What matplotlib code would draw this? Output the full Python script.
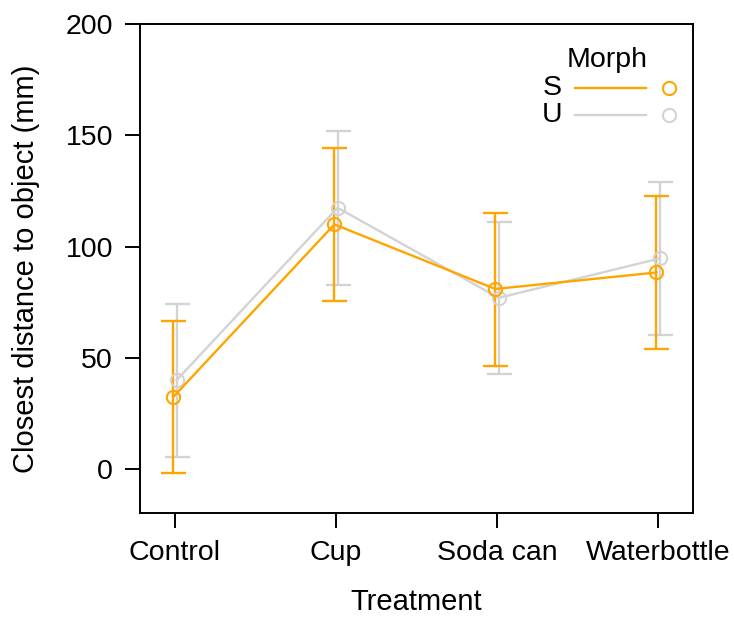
import matplotlib
matplotlib.use("Agg")
import matplotlib.pyplot as plt
import numpy as np

plt.rcParams['font.family'] = ['Liberation Sans', 'DejaVu Sans']

treatments = ['Control', 'Cup', 'Soda can', 'Waterbottle']
morphs = ['S', 'U']

# means and lower/upper interval ends
mean_S = [32.5, 110.0, 81.0, 88.4]
low_S = [-1.8, 75.5, 46.4, 53.9]
high_S = [66.6, 144.3, 115.2, 122.8]

mean_U = [40.0, 117.5, 77.0, 94.7]
low_U = [5.7, 83.0, 42.7, 60.2]
high_U = [74.1, 151.8, 111.1, 129.1]

colors = {'S': '#FFA500', 'U': '#D3D3D3'}

fig = plt.figure(figsize=(7.34, 6.18), dpi=100)
ax = fig.add_axes([0.1907, 0.1704, 0.7534, 0.7907])

x = np.arange(1, len(treatments) + 1)
dodge = {'S': -0.01, 'U': 0.01}
data = {'S': (mean_S, low_S, high_S), 'U': (mean_U, low_U, high_U)}

# grey first so orange sits on top
for m in ['U', 'S']:
    mu, lo, hi = (np.array(v) for v in data[m])
    xs = x + dodge[m]
    ax.errorbar(xs, mu, yerr=[mu - lo, hi - mu], fmt='none', ecolor=colors[m],
                elinewidth=1.7, capsize=9, capthick=1.7, zorder=2)
    ax.plot(xs, mu, color=colors[m], lw=1.7, marker='o', ms=9.5,
            mfc='none', mec=colors[m], mew=1.5, zorder=3)

ax.set_xlim(0.783, 4.217)
ax.set_ylim(-19.5, 200)
ax.set_xticks(x)
ax.set_xticklabels(treatments)
ax.set_yticks([0, 50, 100, 150, 200])

for s in ax.spines.values():
    s.set_linewidth(1.4)
    s.set_color('black')
ax.tick_params(axis='both', length=10.5, width=1.4, labelsize=20.5)
ax.tick_params(axis='x', pad=9)
ax.tick_params(axis='y', pad=9)

ax.set_xlabel('Treatment', fontsize=21, labelpad=16)
ax.set_ylabel('Closest distance to object (mm)', fontsize=21, labelpad=18)

# legend drawn by hand: label, line, then open circle
ax.text(0.845, 0.926, 'Morph', transform=ax.transAxes, fontsize=20.5,
        ha='center', va='center')
for m, yy in zip(morphs, [0.869, 0.814]):
    ax.text(0.745, yy, m, transform=ax.transAxes, fontsize=20.5,
            ha='center', va='center')
    ax.plot([0.787, 0.915], [yy, yy], transform=ax.transAxes,
            color=colors[m], lw=1.7)
    ax.plot([0.957], [yy], transform=ax.transAxes, marker='o', ms=9.5,
            mfc='none', mec=colors[m], mew=1.5, ls='none')

fig.savefig('out.png', dpi=100)
